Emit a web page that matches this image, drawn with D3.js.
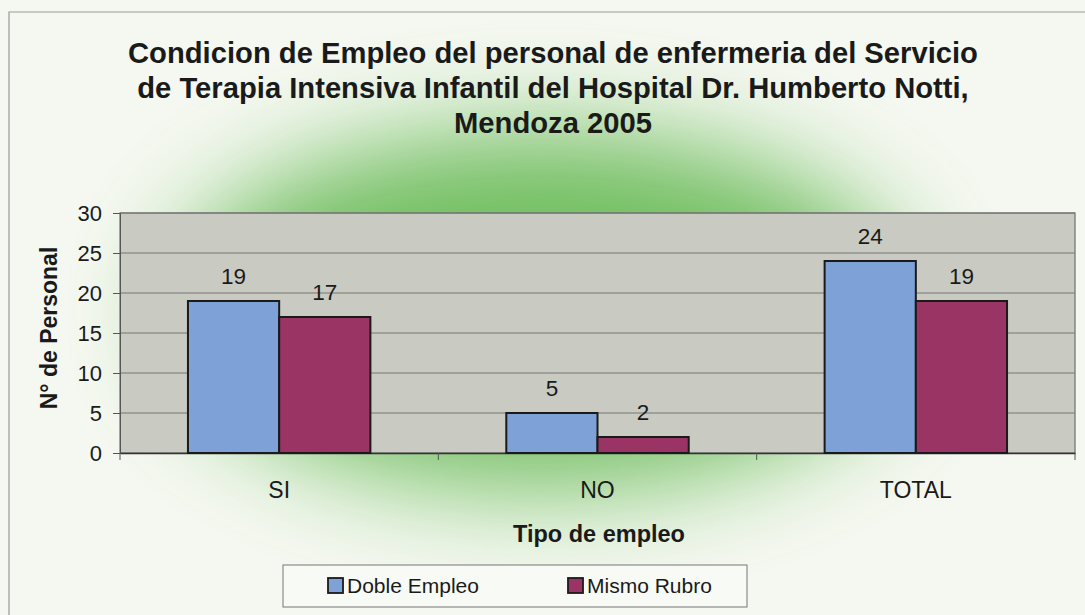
<!DOCTYPE html>
<html>
<head>
<meta charset="utf-8">
<script src="https://cdn.jsdelivr.net/npm/d3@7"></script>
<style>
  body { margin: 0; background: #f4f8f0; }
  svg { display: block; font-family: "Liberation Sans", Arial, sans-serif; }
</style>
</head>
<body>
<div id="chart"></div>
<script>
const width = 1085;
const height = 615;

const categories = ["SI", "NO", "TOTAL"];
const series = ["Doble Empleo", "Mismo Rubro"];
const dobleEmpleo = [19, 5, 24];
const mismoRubro = [17, 2, 19];
const yTicks = [0, 5, 10, 15, 20, 25, 30];
const colors = ["#7ea2d8", "#9a3465"];

const titleLines = [
  "Condicion de Empleo del personal de enfermeria del Servicio",
  "de Terapia Intensiva Infantil del Hospital Dr. Humberto Notti,",
  "Mendoza 2005"
];

const plot = { left: 120, right: 1075, top: 213, bottom: 453 };

const svg = d3.select("#chart")
  .append("svg")
  .attr("width", width)
  .attr("height", height);

const defs = svg.append("defs");
defs.append("filter")
  .attr("id", "blur")
  .attr("x", "-50%").attr("y", "-50%")
  .attr("width", "200%").attr("height", "200%")
  .append("feGaussianBlur")
  .attr("stdDeviation", 50);

svg.append("rect")
  .attr("width", width)
  .attr("height", height)
  .attr("fill", "#f4f8f0");

// green glow behind the chart
svg.append("ellipse")
  .attr("cx", 540).attr("cy", 310)
  .attr("rx", 370).attr("ry", 180)
  .attr("fill", "#6cbc5a")
  .attr("opacity", 0.95)
  .attr("filter", "url(#blur)");

// outer frame
svg.append("path")
  .attr("d", "M9,615 V12 H1085")
  .attr("fill", "none")
  .attr("stroke", "#9a9a9a")
  .attr("stroke-width", 1.2);

svg.selectAll(".title")
  .data(titleLines)
  .enter().append("text")
  .attr("class", "title")
  .attr("x", 553)
  .attr("y", (d, i) => 63 + i * 35)
  .attr("text-anchor", "middle")
  .attr("font-size", 29.2)
  .attr("font-weight", "bold")
  .attr("fill", "#1a1a1a")
  .text(d => d);

const x0 = d3.scaleBand()
  .domain(categories)
  .range([plot.left, plot.right])
  .paddingInner(0)
  .paddingOuter(0);

const x1 = d3.scaleBand()
  .domain(series)
  .range([0, x0.bandwidth()])
  .paddingInner(0)
  .paddingOuter(0.745);

const y = d3.scaleLinear()
  .domain([0, 30])
  .range([plot.bottom, plot.top]);

svg.append("rect")
  .attr("x", plot.left)
  .attr("y", plot.top)
  .attr("width", plot.right - plot.left)
  .attr("height", plot.bottom - plot.top)
  .attr("fill", "#c9cac2")
  .attr("stroke", "#6f6f6f")
  .attr("stroke-width", 1.2);

// gridlines
svg.append("g")
  .selectAll("line")
  .data(yTicks.slice(1))
  .enter().append("line")
  .attr("x1", plot.left)
  .attr("x2", plot.right)
  .attr("y1", d => y(d))
  .attr("y2", d => y(d))
  .attr("stroke", "#767676")
  .attr("stroke-width", 1);

const yAxis = svg.append("g")
  .attr("transform", `translate(${plot.left},0)`)
  .call(d3.axisLeft(y).tickValues(yTicks).tickSize(7).tickPadding(11));
yAxis.select(".domain").attr("stroke", "#555");
yAxis.selectAll(".tick line").attr("stroke", "#555");
yAxis.selectAll(".tick text")
  .attr("font-size", 22)
  .attr("fill", "#1a1a1a")
  .attr("font-family", "'Liberation Sans', Arial, sans-serif");

const xAxis = svg.append("g")
  .attr("transform", `translate(0,${plot.bottom})`)
  .call(d3.axisBottom(x0).tickSize(0).tickPadding(29));
xAxis.select(".domain").attr("stroke", "#333").attr("stroke-width", 1.5);
xAxis.selectAll(".tick text")
  .attr("font-size", 23)
  .attr("fill", "#1a1a1a")
  .attr("font-family", "'Liberation Sans', Arial, sans-serif");

// category separator ticks below axis
svg.append("g")
  .selectAll("line")
  .data(categories.concat(["end"]))
  .enter().append("line")
  .attr("x1", (d, i) => plot.left + i * x0.bandwidth())
  .attr("x2", (d, i) => plot.left + i * x0.bandwidth())
  .attr("y1", plot.bottom)
  .attr("y2", plot.bottom + 7)
  .attr("stroke", "#555");

const values = [dobleEmpleo, mismoRubro];

const groups = svg.append("g")
  .selectAll("g")
  .data(categories)
  .enter().append("g")
  .attr("transform", d => `translate(${x0(d)},0)`);

groups.selectAll("rect")
  .data((d, i) => series.map((s, j) => ({ s, v: values[j][i], j })))
  .enter().append("rect")
  .attr("x", d => x1(d.s))
  .attr("y", d => y(d.v))
  .attr("width", x1.bandwidth())
  .attr("height", d => y(0) - y(d.v))
  .attr("fill", d => colors[d.j])
  .attr("stroke", "#1a1a1a")
  .attr("stroke-width", 2);

groups.selectAll(".lbl")
  .data((d, i) => series.map((s, j) => ({ s, v: values[j][i], j })))
  .enter().append("text")
  .attr("class", "lbl")
  .attr("x", d => x1(d.s) + x1.bandwidth() / 2)
  .attr("y", d => y(d.v) - 17)
  .attr("text-anchor", "middle")
  .attr("font-size", 22.5)
  .attr("fill", "#1a1a1a")
  .text(d => d.v);

svg.append("text")
  .attr("transform", `translate(57,${(plot.top + plot.bottom) / 2 - 5}) rotate(-90)`)
  .attr("text-anchor", "middle")
  .attr("font-size", 23)
  .attr("font-weight", "bold")
  .attr("fill", "#1a1a1a")
  .text("N° de Personal");

svg.append("text")
  .attr("x", 599)
  .attr("y", 542)
  .attr("text-anchor", "middle")
  .attr("font-size", 23.5)
  .attr("font-weight", "bold")
  .attr("fill", "#1a1a1a")
  .text("Tipo de empleo");

// legend
const legend = svg.append("g");
legend.append("rect")
  .attr("x", 283).attr("y", 565)
  .attr("width", 464).attr("height", 42)
  .attr("fill", "#f7faf5")
  .attr("stroke", "#777")
  .attr("stroke-width", 1);

const legendX = [328, 568];
const items = legend.selectAll(".item")
  .data(series)
  .enter().append("g")
  .attr("class", "item")
  .attr("transform", (d, i) => `translate(${legendX[i]},578)`);

items.append("rect")
  .attr("width", 15).attr("height", 15)
  .attr("fill", (d, i) => colors[i])
  .attr("stroke", "#1a1a1a")
  .attr("stroke-width", 1.8);

items.append("text")
  .attr("x", 19)
  .attr("y", 15)
  .attr("font-size", 21)
  .attr("fill", "#1a1a1a")
  .text(d => d);
</script>
</body>
</html>
